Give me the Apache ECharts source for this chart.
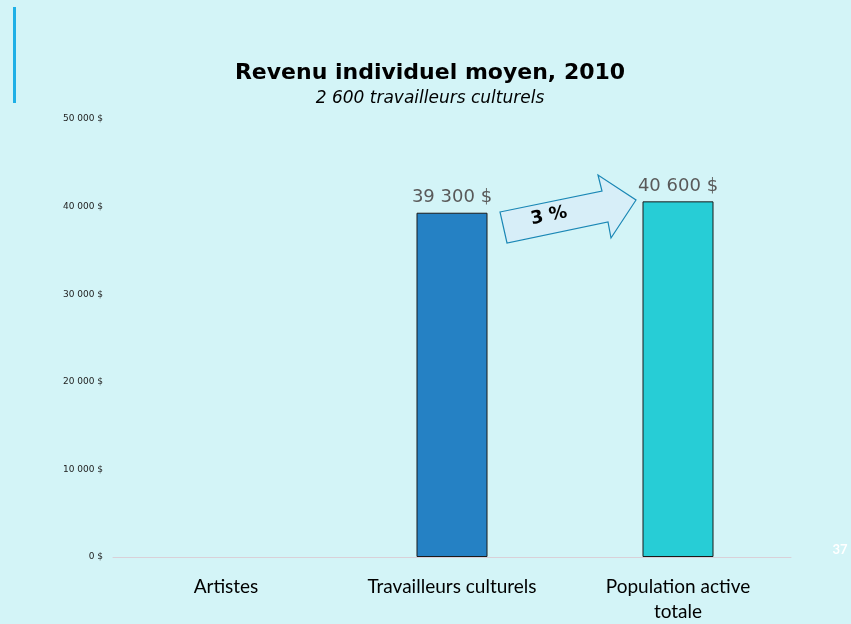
<!DOCTYPE html>
<head>
<meta charset="utf-8">
<title>ECharts</title>
</head>
<body style="margin:0;background:#d3f4f7">
<div id="home" style="width: 851px; height: 624px"></div>
<script type="text/javascript" src="https://cdn.jsdelivr.net/npm/echarts@6/dist/echarts.min.js"></script>
<script>
var categories = ['Artistes', 'Travailleurs culturels', 'Population active\ntotale'];
var values = [null, 39300, 40600];
var barColors = ['#2581c4', '#2581c4', '#27cdd6'];
var yTicks = [0, 10000, 20000, 30000, 40000, 50000];

function fmt(v) {
    return String(v).replace(/\B(?=(\d{3})+(?!\d))/g, ' ') + ' $';
}

var myChart = echarts.init(document.getElementById('home'));
myChart.setOption({
    backgroundColor: '#d3f4f7',
    title: {
        text: 'Revenu individuel moyen, 2010',
        subtext: '2 600 travailleurs culturels',
        left: 425,
        top: 57,
        textAlign: 'center',
        itemGap: 6,
        textStyle: { fontFamily: 'DejaVu Sans', fontWeight: 'bold', fontSize: 22, color: '#000' },
        subtextStyle: { fontFamily: 'DejaVu Sans', fontStyle: 'italic', fontSize: 17, color: '#000' }
    },
    grid: { left: 113, right: 60, top: 119, bottom: 67, outerBoundsMode: 'none', containLabel: false },
    xAxis: {
        type: 'category',
        data: categories,
        axisLine: { lineStyle: { color: '#d9d0d8', width: 1 } },
        axisTick: { show: false },
        axisLabel: { interval: 0, fontFamily: 'Lato', fontSize: 19, color: '#000', margin: 17, lineHeight: 25 }
    },
    yAxis: {
        type: 'value',
        min: yTicks[0],
        max: yTicks[yTicks.length - 1],
        interval: 10000,
        splitLine: { show: false },
        axisLine: { show: false },
        axisTick: { show: false },
        axisLabel: { fontFamily: 'DejaVu Sans', fontSize: 9, color: '#222', margin: 10, formatter: fmt }
    },
    series: [{
        type: 'bar',
        barWidth: 71,
        data: values.map(function (v, i) {
            return { value: v, itemStyle: { color: barColors[i] } };
        }),
        itemStyle: { borderColor: '#1a1a1a', borderWidth: 1 },
        label: {
            show: true,
            position: 'top',
            distance: 6,
            fontFamily: 'DejaVu Sans',
            fontSize: 18,
            color: '#595959',
            formatter: function (p) { return fmt(p.value); }
        }
    }],
    graphic: [
        { type: 'rect', shape: { x: 13, y: 7, width: 3, height: 96 }, style: { fill: '#1fb0e6' } },
        {
            type: 'polygon',
            shape: { points: [[500, 212], [602, 191], [598, 175], [636, 200], [611, 238], [608, 222], [507, 243]] },
            style: { fill: '#d7eef8', stroke: '#1a87b5', lineWidth: 1.2 }
        },
        {
            type: 'text', x: 549, y: 216, rotation: 0.2,
            style: { text: '3 %', fontFamily: 'DejaVu Sans', fontWeight: 'bold', fontSize: 18, fill: '#000', align: 'center', verticalAlign: 'middle' }
        },
        {
            type: 'text', x: 840, y: 550,
            style: { text: '37', fontFamily: 'Lato', fontWeight: 'bold', fontSize: 13, fill: '#ffffff', align: 'center', verticalAlign: 'middle' }
        }
    ]
});
</script>
</body>
</html>
